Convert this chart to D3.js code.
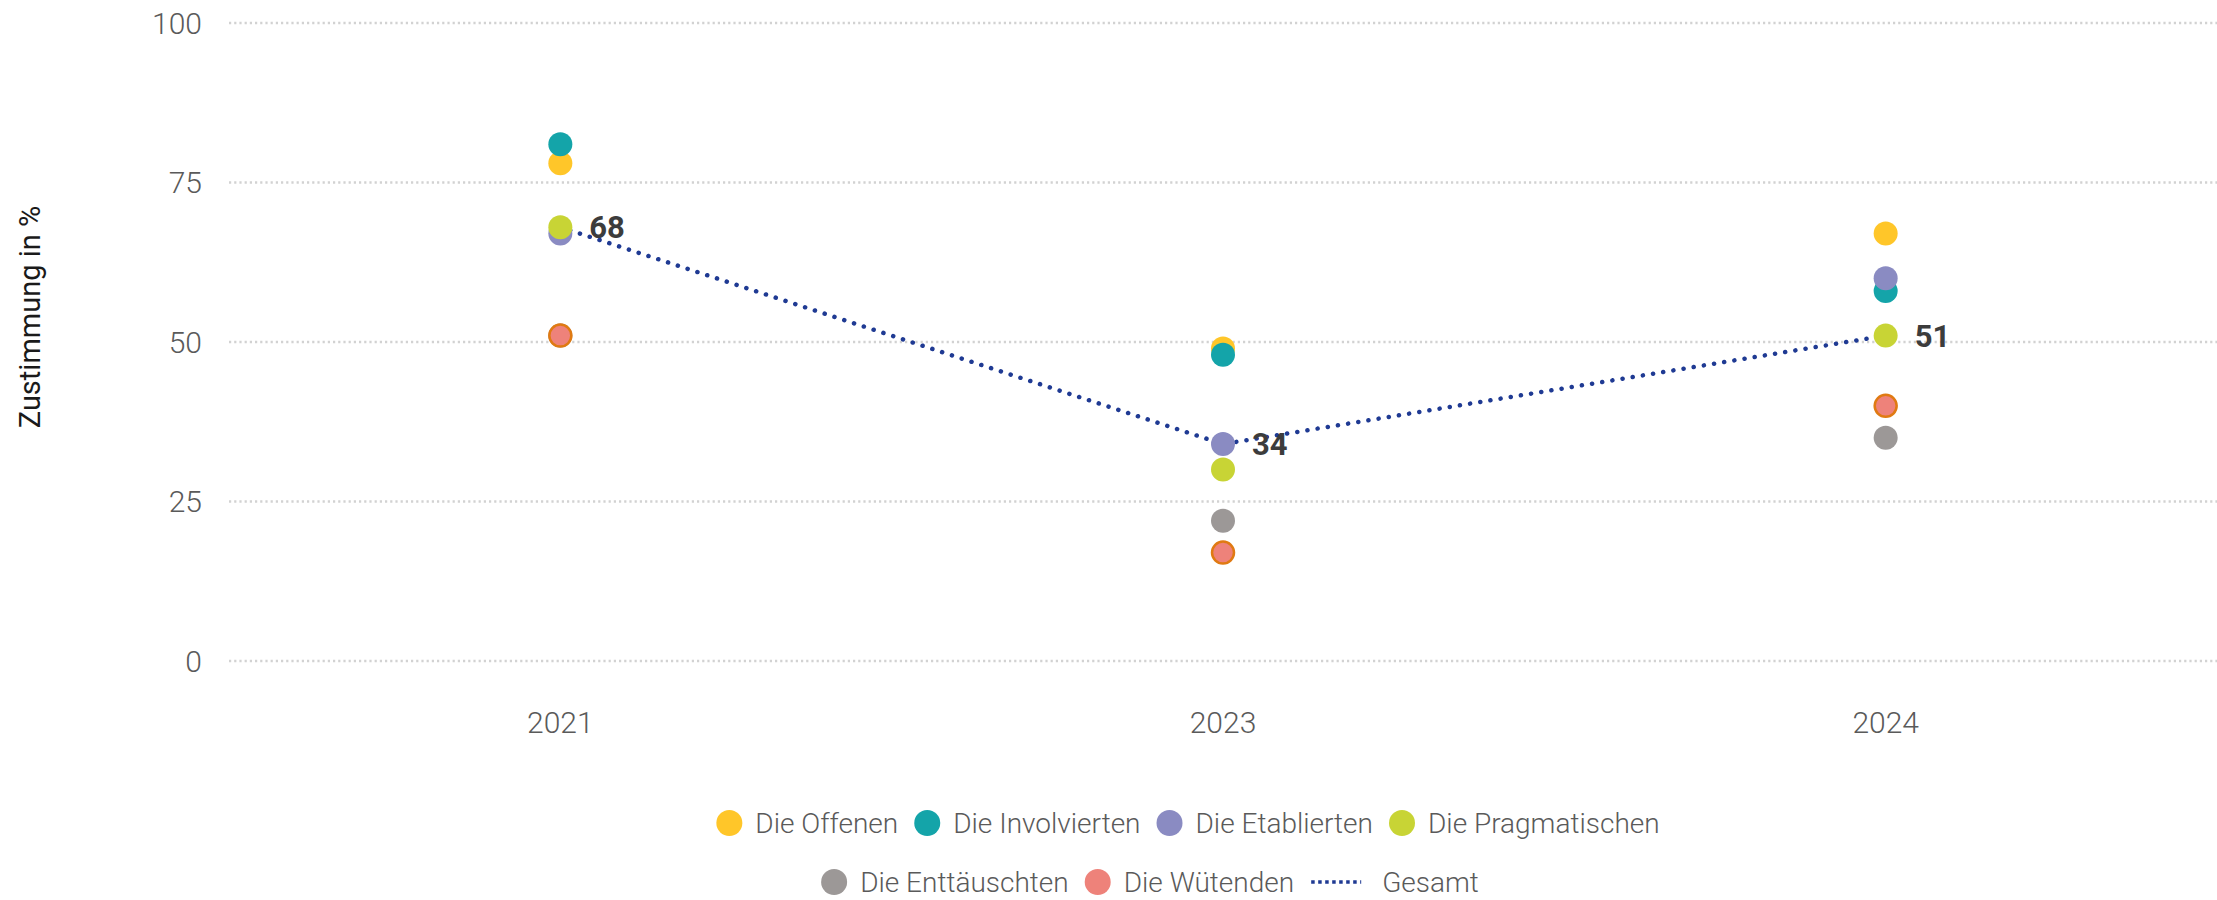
<!DOCTYPE html>
<html lang="de">
<head>
    <meta charset="UTF-8">
    <title>Zustimmung in %</title>
    <script src="https://d3js.org/d3.v7.min.js"></script>
    <style>
        body { margin: 0; background: #fff; }
        text { font-family: Roboto, "Noto Sans", sans-serif; }
        .grid line { stroke: #d2d2d2; stroke-width: 2.5px; stroke-dasharray: 2.2 3; }
        .tick-label { font-size: 30px; font-weight: 300; fill: #5a5a5a; }
        .legend text { font-size: 28px; font-weight: 300; fill: #5a5a5a; }
        .value-label { font-size: 31px; font-weight: 700; fill: #3c3c3c; }
    </style>
</head>
<body>
    <svg id="chart" width="2217" height="900"></svg>

    <script>
        // Data
        var years = ["2021", "2023", "2024"];
        var groups = ["Die Offenen", "Die Involvierten", "Die Etablierten", "Die Pragmatischen", "Die Enttäuschten", "Die Wütenden"];
        var offenen      = [78, 49, 67];
        var involvierten = [81, 48, 58];
        var etablierten  = [67, 34, 60];
        var pragmatische = [68, 30, 51];
        var enttaeuschte = [51, 22, 35];
        var wuetende     = [51, 17, 40];
        var gesamt       = [68, 34, 51];
        var yTicks = [0, 25, 50, 75, 100];

        var groupValues = [offenen, involvierten, etablierten, pragmatische, enttaeuschte, wuetende];
        var colors = ["#ffc629", "#14a4a9", "#8a8bc2", "#c8d435", "#9c9897", "#ee827a"];
        var lineColor = "#1f3a93";

        var svg = d3.select("#chart");

        // Scales
        var x = d3.scalePoint().domain(years).range([229, 2217]).padding(0.5);
        var y = d3.scaleLinear().domain([0, 100]).range([661, 23]);

        // Grid lines
        svg.append("g")
            .attr("class", "grid")
            .selectAll("line")
            .data(yTicks)
            .join("line")
            .attr("x1", 229)
            .attr("x2", 2217)
            .attr("y1", function(d) { return y(d); })
            .attr("y2", function(d) { return y(d); });

        // Y axis labels
        svg.append("g")
            .selectAll("text")
            .data(yTicks)
            .join("text")
            .attr("class", "tick-label")
            .attr("x", 202)
            .attr("y", function(d) { return y(d); })
            .attr("dy", "0.35em")
            .attr("text-anchor", "end")
            .text(function(d) { return d; });

        // X axis labels
        svg.append("g")
            .selectAll("text")
            .data(years)
            .join("text")
            .attr("class", "tick-label")
            .attr("x", function(d) { return x(d); })
            .attr("y", 733)
            .attr("text-anchor", "middle")
            .text(function(d) { return d; });

        // Y axis title
        svg.append("text")
            .attr("transform", "translate(40,317) rotate(-90)")
            .attr("text-anchor", "middle")
            .style("font-size", "29px")
            .style("fill", "#1a1a1a")
            .text("Zustimmung in %");

        // Gesamt line
        var line = d3.line()
            .x(function(d, i) { return x(years[i]); })
            .y(function(d) { return y(d); });

        svg.append("path")
            .datum(gesamt)
            .attr("d", line)
            .attr("fill", "none")
            .attr("stroke", lineColor)
            .attr("stroke-width", 4.5)
            .attr("stroke-linecap", "round")
            .attr("stroke-dasharray", "0.1 10.2");

        // Group dots
        groupValues.forEach(function(vals, gi) {
            svg.append("g")
                .selectAll("circle")
                .data(vals)
                .join("circle")
                .attr("cx", function(d, i) { return x(years[i]); })
                .attr("cy", function(d) { return y(d); })
                .attr("r", gi === 5 ? 11 : 12)
                .attr("fill", colors[gi])
                .attr("stroke", gi === 5 ? "#e07a12" : "none")
                .attr("stroke-width", gi === 5 ? 2.5 : 0);
        });

        // Gesamt value labels
        svg.append("g")
            .selectAll("text")
            .data(gesamt)
            .join("text")
            .attr("class", "value-label")
            .attr("x", function(d, i) { return x(years[i]) + 29; })
            .attr("y", function(d) { return y(d); })
            .attr("dy", "0.36em")
            .text(function(d) { return d; });

        // Legend (each row centred on its own midpoint)
        var legendRows = [
            { items: [0, 1, 2, 3], y: 823, center: 1188 },
            { items: [4, 5, "gesamt"], y: 882, center: 1150 }
        ];

        var legend = svg.append("g").attr("class", "legend");

        legendRows.forEach(function(row) {
            var rowG = legend.append("g");
            var cx = 0;
            row.items.forEach(function(item, k) {
                var g = rowG.append("g");
                var label;
                if (item === "gesamt") {
                    g.append("line")
                        .attr("x1", cx + 1)
                        .attr("x2", cx + 51)
                        .attr("y1", row.y)
                        .attr("y2", row.y)
                        .attr("stroke", lineColor)
                        .attr("stroke-width", 3.5)
                        .attr("stroke-dasharray", "3.5 3.5");
                    cx += 72;
                    label = "Gesamt";
                } else {
                    g.append("circle")
                        .attr("cx", cx + 13)
                        .attr("cy", row.y)
                        .attr("r", 13)
                        .attr("fill", colors[item]);
                    cx += 39;
                    label = groups[item];
                }
                var t = g.append("text")
                    .attr("x", cx)
                    .attr("y", row.y)
                    .attr("dy", "0.35em")
                    .text(label);
                cx += t.node().getComputedTextLength();
                if (k < row.items.length - 1) cx += 16;
            });
            rowG.attr("transform", "translate(" + (row.center - cx / 2) + ",0)");
        });
    </script>
</body>
</html>
